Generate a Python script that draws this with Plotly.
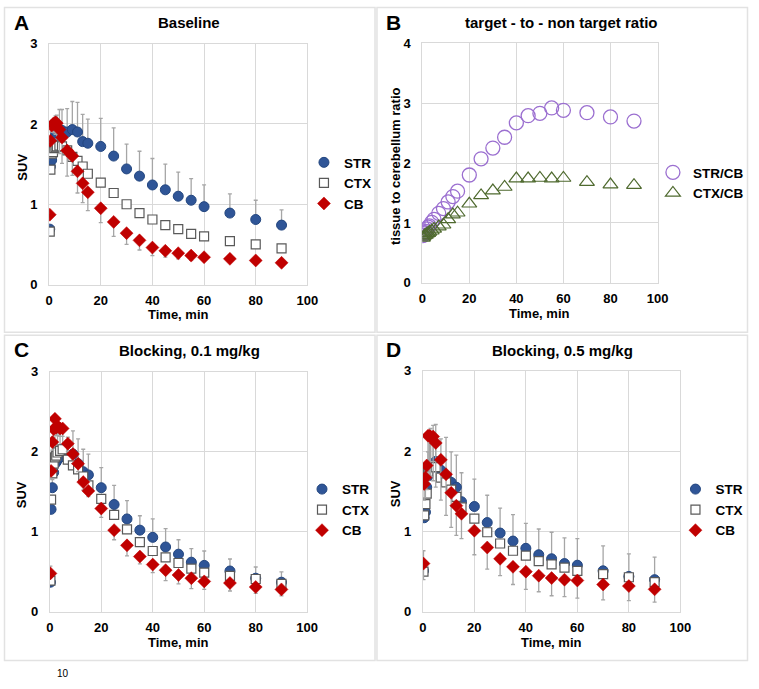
import plotly.graph_objects as go

W, H = 759, 689
FONT = "Arial, 'Liberation Sans', sans-serif"

# ---------------- data ----------------
times = [0.25, 0.5, 1, 1.5, 2, 2.5, 3, 4, 5, 7, 9, 11, 13, 15, 20, 25, 30, 35, 40, 45, 50, 55, 60, 70, 80, 90]

# A: Baseline
STR_A = [0.69, 1.47, 1.55, 1.70, 1.72, 1.88, 1.86, 1.92, 1.92, 1.90, 1.93, 1.90, 1.78, 1.76, 1.72, 1.60, 1.44, 1.35, 1.24, 1.18, 1.10, 1.05, 0.97, 0.89, 0.81, 0.74]
CTX_A = [0.66, 1.43, 1.63, 1.65, 1.70, 1.71, 1.72, 1.73, 1.72, 1.67, 1.59, 1.54, 1.47, 1.38, 1.27, 1.14, 1.00, 0.89, 0.81, 0.74, 0.69, 0.63, 0.60, 0.54, 0.50, 0.45]
CB_A = [0.87, 1.79, 1.98, 2.00, 2.01, 2.02, 2.01, 1.93, 1.83, 1.67, 1.60, 1.41, 1.26, 1.15, 0.95, 0.78, 0.64, 0.55, 0.46, 0.42, 0.39, 0.36, 0.34, 0.32, 0.30, 0.27]
STR_A_err = [0.03, 0.08, 0.10, 0.15, 0.20, 0.22, 0.25, 0.26, 0.26, 0.29, 0.35, 0.37, 0.34, 0.30, 0.35, 0.35, 0.31, 0.31, 0.33, 0.32, 0.30, 0.27, 0.27, 0.24, 0.24, 0.19]
CB_A_err = [0.03, 0.05, 0.08, 0.10, 0.12, 0.15, 0.20, 0.30, 0.32, 0.32, 0.24, 0.27, 0.24, 0.23, 0.18, 0.18, 0.14, 0.12, 0.10, 0.08, 0.07, 0.06, 0.04, 0.03, 0.02, 0.02]

# B: target-to-non target ratio
STR_CB = [0.79, 0.82, 0.84, 0.86, 0.90, 0.93, 0.95, 1.01, 1.06, 1.16, 1.24, 1.35, 1.44, 1.53, 1.80, 2.07, 2.25, 2.43, 2.67, 2.79, 2.83, 2.92, 2.88, 2.84, 2.77, 2.70]
CTX_CB = [0.75, 0.77, 0.79, 0.80, 0.82, 0.83, 0.85, 0.87, 0.90, 0.94, 0.97, 1.06, 1.14, 1.17, 1.32, 1.46, 1.54, 1.60, 1.74, 1.74, 1.75, 1.74, 1.75, 1.68, 1.64, 1.63]

# C: Blocking 0.1 mg/kg
STR_C = [0.37, 1.28, 1.55, 1.74, 1.85, 1.87, 1.90, 1.93, 2.03, 1.91, 1.97, 1.85, 1.75, 1.71, 1.55, 1.34, 1.16, 1.02, 0.93, 0.81, 0.72, 0.62, 0.58, 0.51, 0.42, 0.37]
CTX_C = [0.39, 1.40, 1.73, 1.85, 1.93, 1.95, 1.99, 2.01, 2.03, 1.90, 1.83, 1.78, 1.69, 1.58, 1.41, 1.21, 1.03, 0.87, 0.76, 0.68, 0.61, 0.54, 0.49, 0.45, 0.41, 0.35]
CB_C = [0.48, 1.76, 2.12, 2.28, 2.41, 2.30, 2.32, 2.29, 2.29, 2.10, 1.97, 1.85, 1.62, 1.51, 1.29, 1.02, 0.83, 0.69, 0.59, 0.52, 0.46, 0.42, 0.38, 0.36, 0.31, 0.28]
STR_C_err = [0.20, 0.10, 0.10, 0.12, 0.20, 0.25, 0.30, 0.30, 0.27, 0.27, 0.29, 0.31, 0.28, 0.26, 0.25, 0.24, 0.23, 0.18, 0.23, 0.23, 0.18, 0.17, 0.18, 0.15, 0.14, 0.13]
CB_C_err = [0.05, 0.10, 0.10, 0.10, 0.12, 0.10, 0.10, 0.10, 0.10, 0.10, 0.12, 0.10, 0.10, 0.07, 0.11, 0.12, 0.13, 0.09, 0.10, 0.13, 0.11, 0.13, 0.10, 0.10, 0.08, 0.08]

# D: Blocking 0.5 mg/kg
STR_D = [0.51, 1.17, 1.24, 1.55, 1.69, 1.76, 1.83, 1.84, 1.87, 1.76, 1.69, 1.61, 1.55, 1.37, 1.31, 1.11, 0.98, 0.88, 0.79, 0.71, 0.66, 0.60, 0.58, 0.51, 0.44, 0.40]
CTX_D = [0.50, 1.20, 1.34, 1.47, 1.74, 1.80, 1.81, 1.82, 1.80, 1.67, 1.61, 1.52, 1.43, 1.30, 1.16, 0.99, 0.85, 0.76, 0.70, 0.63, 0.59, 0.55, 0.51, 0.47, 0.43, 0.37]
CB_D = [0.60, 1.59, 1.67, 1.82, 2.19, 2.19, 2.18, 2.18, 2.10, 1.89, 1.71, 1.48, 1.32, 1.22, 1.01, 0.80, 0.66, 0.56, 0.50, 0.45, 0.42, 0.40, 0.39, 0.34, 0.32, 0.28]
STR_D_err = [0.25, 0.10, 0.10, 0.20, 0.30, 0.40, 0.45, 0.48, 0.46, 0.39, 0.48, 0.38, 0.40, 0.36, 0.34, 0.34, 0.31, 0.33, 0.31, 0.32, 0.33, 0.32, 0.33, 0.31, 0.28, 0.28]
CB_D_err = [0.20, 0.20, 0.25, 0.30, 0.55, 0.50, 0.50, 0.55, 0.55, 0.50, 0.51, 0.43, 0.37, 0.31, 0.30, 0.27, 0.21, 0.22, 0.22, 0.20, 0.22, 0.21, 0.22, 0.19, 0.18, 0.16]

panel_letters = ["A", "B", "C", "D"]
panel_titles = ["Baseline", "target - to - non target ratio", "Blocking, 0.1 mg/kg", "Blocking, 0.5 mg/kg"]
x_title = "Time, min"
y_titles = ["SUV", "tissue to cerebellum ratio", "SUV", "SUV"]
page_fragment = "10"

# ---------------- helpers ----------------
def px(x):
    return x / W

def py(y):
    return 1 - y / H

ERR_COL = "#a6a6a6"
BLUE = "#2f5597"
RED = "#c00000"

def err(vals, plus=True):
    if plus:
        return dict(type="data", array=vals, arrayminus=[0] * len(vals), symmetric=False,
                    color=ERR_COL, thickness=1.3, width=2)
    return dict(type="data", array=[0] * len(vals), arrayminus=vals, symmetric=False,
                color=ERR_COL, thickness=1.3, width=2)

fig = go.Figure()

def suv_traces(xa, ya, leg, s, c, b, s_err, b_err):
    fig.add_trace(go.Scatter(x=times, y=s, mode="markers", name="STR", xaxis=xa, yaxis=ya, legend=leg,
                             marker=dict(symbol="circle", size=10, color=BLUE, line=dict(color="#23467f", width=1)),
                             error_y=err(s_err, True)))
    fig.add_trace(go.Scatter(x=times, y=c, mode="markers", name="CTX", xaxis=xa, yaxis=ya, legend=leg,
                             marker=dict(symbol="square", size=9, color="white", line=dict(color="#595959", width=1.2))))
    fig.add_trace(go.Scatter(x=times, y=b, mode="markers", name="CB", xaxis=xa, yaxis=ya, legend=leg,
                             marker=dict(symbol="diamond", size=10, color=RED, line=dict(color=RED, width=0.5)),
                             error_y=err(b_err, False)))

suv_traces("x", "y", "legend", STR_A, CTX_A, CB_A, STR_A_err, CB_A_err)
fig.add_trace(go.Scatter(x=times, y=STR_CB, mode="markers", name="STR/CB", xaxis="x2", yaxis="y2", legend="legend2",
                         marker=dict(symbol="circle-open", size=14, color="#9b6fd0", line=dict(width=1.3))))
fig.add_trace(go.Scatter(x=times, y=CTX_CB, mode="markers", name="CTX/CB", xaxis="x2", yaxis="y2", legend="legend2",
                         marker=dict(symbol="triangle-up-open", size=13, color="#4f6a2f", line=dict(width=1.2))))
suv_traces("x3", "y3", "legend3", STR_C, CTX_C, CB_C, STR_C_err, CB_C_err)
suv_traces("x4", "y4", "legend4", STR_D, CTX_D, CB_D, STR_D_err, CB_D_err)

# plot-area pixel boxes [x0, x1, ytop, ybottom]
boxes = [
    (46, 309.5, 37.5, 283.7),
    (426.7, 666.7, 37, 282),
    (46.7, 309.3, 372.7, 618.3),
    (427.3, 690, 371.7, 618.3),
]
ymax = [3, 4, 3, 3]

GRID = "#d9d9d9"
tickfont = dict(family=FONT, size=13, color="#000000", weight="bold")
layout_axes = {}
for i, (x0, x1, yt, yb) in enumerate(boxes):
    sfx = "" if i == 0 else str(i + 1)
    layout_axes["xaxis" + sfx] = dict(domain=[px(x0), px(x1)], anchor="y" + sfx, range=[0, 100], dtick=20,
                                      showgrid=True, gridcolor=GRID, gridwidth=1, zeroline=False,
                                      showline=True, mirror=True, linecolor=GRID, linewidth=1,
                                      ticks="", tickfont=tickfont, ticklabelstandoff=4, fixedrange=True)
    layout_axes["yaxis" + sfx] = dict(domain=[py(yb), py(yt)], anchor="x" + sfx, range=[0, ymax[i]], dtick=1,
                                      showgrid=True, gridcolor=GRID, gridwidth=1, zeroline=False,
                                      showline=True, mirror=True, linecolor=GRID, linewidth=1,
                                      ticks="", tickfont=tickfont, ticklabelstandoff=8, fixedrange=True)

legfont = dict(family=FONT, size=13.5, color="#000000", weight="bold")
def legend(xl, yc):
    return dict(x=px(xl), y=py(yc), xanchor="left", yanchor="middle", font=legfont,
                bgcolor="rgba(0,0,0,0)", borderwidth=0, tracegroupgap=0, itemsizing="trace")

annotations = []
letter_pos = [(8, 16), (388, 16), (8, 350), (388, 350)]
for i in range(4):
    lx, ly = letter_pos[i]
    annotations.append(dict(text="<b>%s</b>" % panel_letters[i], x=px(lx), y=py(ly), xref="paper", yref="paper",
                            xanchor="left", yanchor="middle", showarrow=False, font=dict(family=FONT, size=21, color="black")))
tcx = [189, 569, 189, 570]
tcy = [16, 16, 351, 351]
for i in range(4):
    annotations.append(dict(text="<b>%s</b>" % panel_titles[i], x=px(tcx[i]), y=py(tcy[i]), xref="paper", yref="paper",
                            xanchor="center", yanchor="middle", showarrow=False, font=dict(family=FONT, size=15, color="black")))
for i, (x0, x1, yt, yb) in enumerate(boxes):
    annotations.append(dict(text="<b>%s</b>" % x_title, x=px((x0 + x1) / 2), y=py(yb + 31), xref="paper", yref="paper",
                            xanchor="center", yanchor="middle", showarrow=False, font=dict(family=FONT, size=13, color="black")))
ytx = [18, 400, 18, 399]
for i, (x0, x1, yt, yb) in enumerate(boxes):
    annotations.append(dict(text="<b>%s</b>" % y_titles[i], x=px(ytx[i]), y=py((yt + yb) / 2 + 3), xref="paper", yref="paper",
                            xanchor="center", yanchor="middle", textangle=-90, showarrow=False,
                            font=dict(family=FONT, size=13, color="black")))
# page number fragment at the bottom (kept fully visible)
annotations.append(dict(text=page_fragment, x=px(60), y=0, xref="paper", yref="paper", xanchor="center", yanchor="bottom",
                        showarrow=False, font=dict(family=FONT, size=10, color="black")))

shapes = []
frames = [(0.5, 378.5, 0.5, 332.5), (380.5, 758.5, 0.5, 332.5), (0.5, 378.5, 335.5, 668), (380.5, 758.5, 335.5, 668)]
for (a, b, t, bt) in frames:
    shapes.append(dict(type="rect", xref="paper", yref="paper", x0=px(a), x1=px(b), y0=py(bt), y1=py(t),
                       line=dict(color="#e2e2e2", width=1.5), fillcolor="rgba(0,0,0,0)", layer="below"))

fig.update_layout(
    width=W, height=H, margin=dict(l=0, r=0, t=0, b=0),
    paper_bgcolor="white", plot_bgcolor="white",
    font=dict(family=FONT, color="black"),
    showlegend=True,
    legend=legend(306, 180),
    legend2=legend(662, 180),
    legend3=legend(304, 514),
    legend4=legend(685, 514),
    annotations=annotations, shapes=shapes,
    **layout_axes,
)

fig.write_html("out.html", config={"displayModeBar": False},
               post_script="document.body.style.margin='0';document.body.style.overflow='hidden';")
